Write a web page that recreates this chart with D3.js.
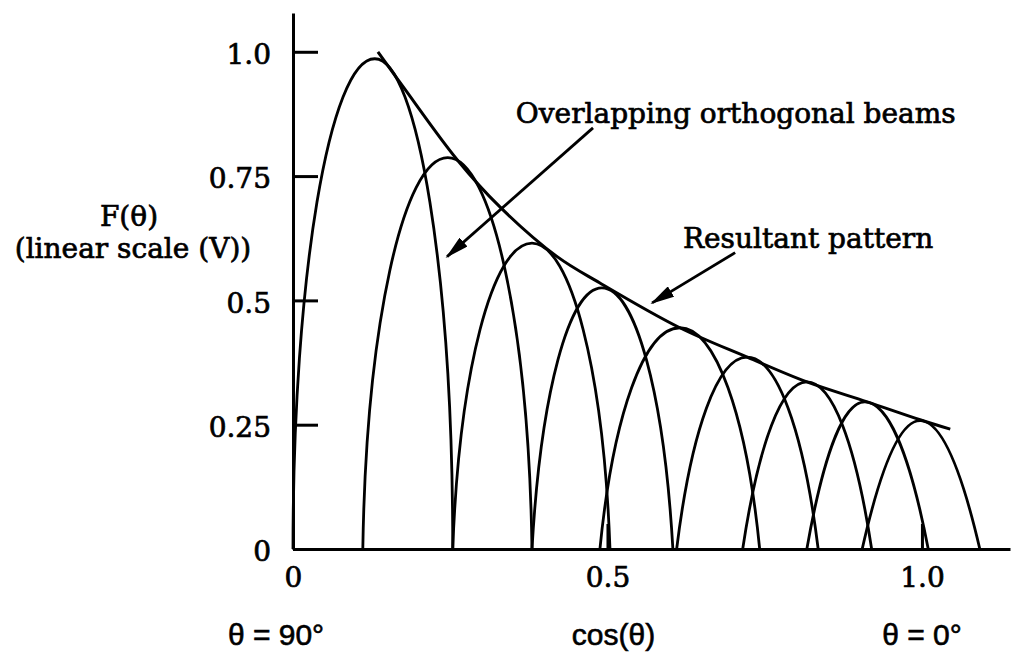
<!DOCTYPE html>
<html>
<head>
<meta charset="utf-8">
<script src="https://cdn.jsdelivr.net/npm/d3@7"></script>
<style>
    body { margin: 0; background: #fff; }
    .serif { font-family: "DejaVu Serif", "Liberation Serif", serif; font-size: 28px; fill: #000; stroke: #000; stroke-width: 0.7px; }
    .sans { font-family: "Liberation Sans", Arial, sans-serif; font-size: 30px; fill: #000; stroke: #000; stroke-width: 0.6px; }
</style>
</head>
<body>
<div id="chart"></div>
<script>
// beams (x in cos(theta), y in linear volts)
const beamLeftNull  = [0.000, 0.111, 0.254, 0.380, 0.488, 0.610, 0.715, 0.817, 0.905];
const beamPeakPos   = [0.130, 0.246, 0.380, 0.491, 0.615, 0.722, 0.817, 0.909, 0.997];
const beamPeakVal   = [0.986, 0.787, 0.615, 0.525, 0.445, 0.386, 0.336, 0.296, 0.258];
const beamRightNull = [0.254, 0.380, 0.504, 0.604, 0.742, 0.835, 0.920, 1.010, 1.092];

// resultant pattern (envelope over the beam tops)
const envelopeX = [0.135, 0.175, 0.261, 0.329, 0.420, 0.488, 0.615, 0.722, 0.817, 0.913, 0.997, 1.045];
const envelopeY = [1.000, 0.930, 0.783, 0.688, 0.588, 0.535, 0.445, 0.386, 0.336, 0.296, 0.260, 0.241];

// ticks
const yTicks = [0, 0.25, 0.5, 0.75, 1.0];
const yTickLabels = ["0", "0.25", "0.5", "0.75", "1.0"];
const xTicks = [0, 0.5, 1.0];
const xTickLabels = ["0", "0.5", "1.0"];

const width = 1011, height = 654;

const svg = d3.select('#chart').append('svg')
    .attr('width', width)
    .attr('height', height);

const x = d3.scaleLinear().domain([0, 1.14]).range([293, 1010]);
const y = d3.scaleLinear().domain([0, 1.078]).range([549, 13]);

// arrow head
svg.append('defs').append('marker')
    .attr('id', 'head')
    .attr('markerUnits', 'userSpaceOnUse')
    .attr('viewBox', '0 0 24 12')
    .attr('refX', 22).attr('refY', 6)
    .attr('markerWidth', 24).attr('markerHeight', 12)
    .attr('orient', 'auto')
    .append('path')
    .attr('d', 'M0,0 L24,6 L0,12 Z')
    .attr('fill', '#000');

// axes
const yAxis = d3.axisLeft(y)
    .tickValues(yTicks)
    .tickFormat((d, i) => yTickLabels[i])
    .tickSizeInner(-25)
    .tickSizeOuter(0)
    .tickPadding(22);

const xAxis = d3.axisBottom(x)
    .tickValues(xTicks)
    .tickFormat((d, i) => xTickLabels[i])
    .tickSizeInner(-25)
    .tickSizeOuter(0)
    .tickPadding(18);

const gy = svg.append('g').attr('transform', `translate(${x(0)},0)`).call(yAxis);
const gx = svg.append('g').attr('transform', `translate(0,${y(0)})`).call(xAxis);

[gx, gy].forEach(g => {
    g.selectAll('path, line').attr('stroke', '#000').attr('stroke-width', 3);
    g.selectAll('text').attr('class', 'serif').attr('font-size', null).attr('font-family', null);
});
gy.selectAll('text').attr('dy', '0.42em');

// beams: each side drawn as a curve between an ellipse and a parabola
const n = beamPeakPos.length;
const beams = beamPeakPos.map((c, i) => ({
    left: beamLeftNull[i], peak: c, amp: beamPeakVal[i], right: beamRightNull[i],
    round: 1 - i / (n - 1)
}));

function beamPath(b) {
    const d1 = 2 / 3 + b.round / 3;
    const h1 = 2 / 3 - 0.1144 * b.round;
    const d2 = 1 / 3 + 0.219 * b.round;
    const wl = b.peak - b.left, wr = b.right - b.peak;
    const p = d3.path();
    p.moveTo(x(b.left), y(0));
    p.bezierCurveTo(x(b.peak - d1 * wl), y(h1 * b.amp), x(b.peak - d2 * wl), y(b.amp), x(b.peak), y(b.amp));
    p.bezierCurveTo(x(b.peak + d2 * wr), y(b.amp), x(b.peak + d1 * wr), y(h1 * b.amp), x(b.right), y(0));
    return p.toString();
}

svg.append('g').selectAll('path')
    .data(beams)
    .enter().append('path')
    .attr('d', beamPath)
    .attr('fill', 'none')
    .attr('stroke', '#000')
    .attr('stroke-width', 2.8);

// resultant pattern
const envelope = envelopeX.map((v, i) => [v, envelopeY[i]]);
svg.append('path')
    .datum(envelope)
    .attr('d', d3.line().x(d => x(d[0])).y(d => y(d[1])).curve(d3.curveCatmullRom))
    .attr('fill', 'none')
    .attr('stroke', '#000')
    .attr('stroke-width', 3);

// annotations
const arrows = [
    { from: [0.477, 0.847], to: [0.245, 0.588] },
    { from: [0.703, 0.596], to: [0.571, 0.495] }
];
svg.append('g').selectAll('line')
    .data(arrows)
    .enter().append('line')
    .attr('x1', d => x(d.from[0])).attr('y1', d => y(d.from[1]))
    .attr('x2', d => x(d.to[0])).attr('y2', d => y(d.to[1]))
    .attr('stroke', '#000')
    .attr('stroke-width', 2.8)
    .attr('marker-end', 'url(#head)');

svg.append('text').attr('class', 'serif')
    .attr('x', x(0.704)).attr('y', y(0.857))
    .attr('text-anchor', 'middle')
    .text('Overlapping orthogonal beams');

svg.append('text').attr('class', 'serif')
    .attr('x', x(0.819)).attr('y', y(0.606))
    .attr('text-anchor', 'middle')
    .text('Resultant pattern');

// y label
svg.append('text').attr('class', 'serif')
    .attr('x', 129).attr('y', 226)
    .attr('text-anchor', 'middle')
    .text('F(θ)');
svg.append('text').attr('class', 'serif')
    .attr('x', 133).attr('y', 258)
    .attr('text-anchor', 'middle')
    .text('(linear scale (V))');

// bottom labels
svg.append('text').attr('class', 'sans')
    .attr('x', x(0) - 17).attr('y', 645)
    .attr('text-anchor', 'middle')
    .text('θ = 90°');
svg.append('text').attr('class', 'sans')
    .attr('x', x(0.5) + 6).attr('y', 645)
    .attr('text-anchor', 'middle')
    .text('cos(θ)');
svg.append('text').attr('class', 'sans')
    .attr('x', x(1.0)).attr('y', 645)
    .attr('text-anchor', 'middle')
    .text('θ = 0°');
</script>
</body>
</html>
